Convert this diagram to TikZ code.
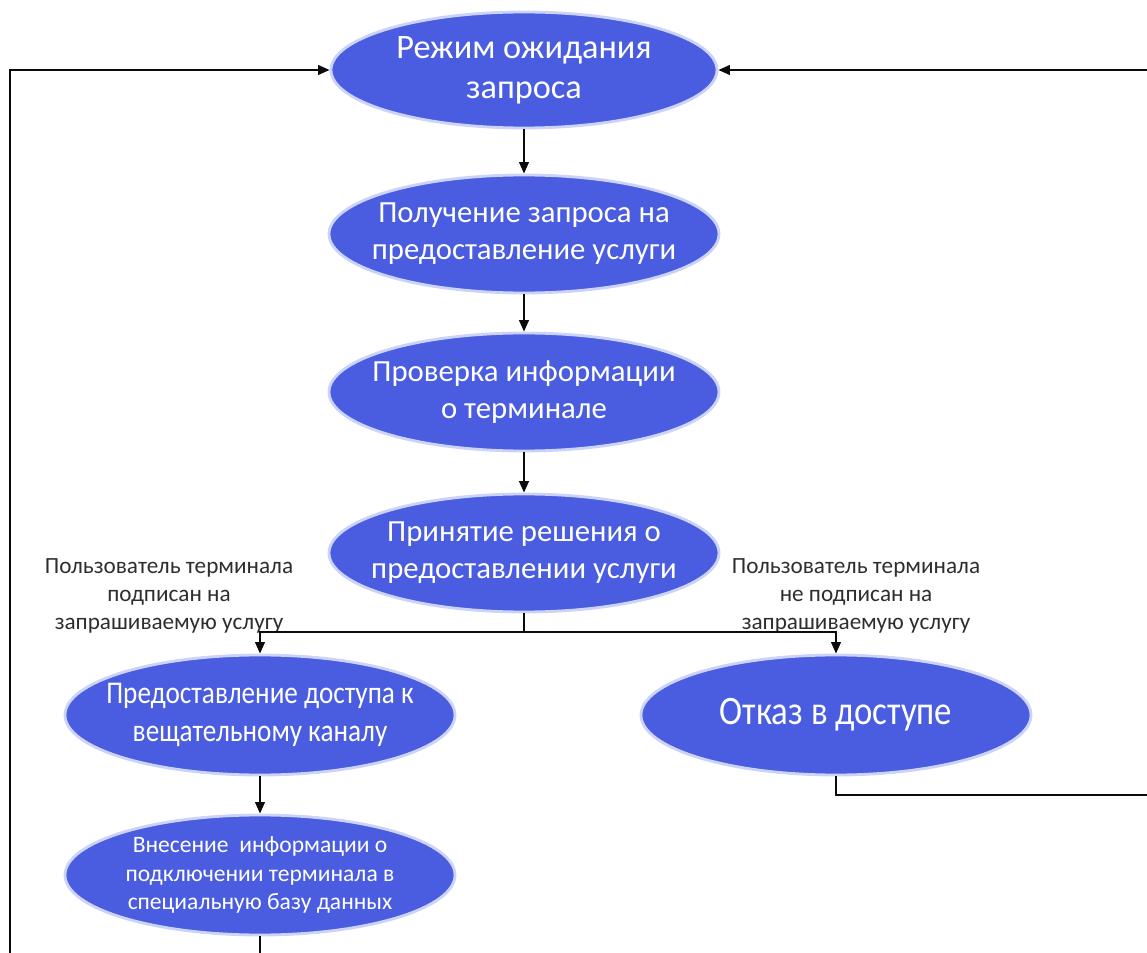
\documentclass[tikz,border=0pt]{standalone}
\usepackage{fontspec}
\setmainfont{Carlito}
\newfontfamily\condfont{Carlito}[FakeStretch=0.86]
\usetikzlibrary{shapes.geometric,arrows.meta}
\definecolor{cnode}{HTML}{4A5DE0}
\definecolor{cglow}{HTML}{CBD3F6}
\definecolor{cink}{HTML}{0B0B0B}
\definecolor{cink2}{HTML}{2E2E2E}

\begin{document}
\begin{tikzpicture}[
  stage/.style={ellipse, fill=cnode, draw=cglow, line width=1.6pt, text=white,
    align=center, inner xsep=-20pt, inner ysep=-6pt,
    minimum width=7.8cm, minimum height=2.36cm},
  link/.style={cink, line width=1.1pt},
  arr/.style={link, -{Triangle[length=6.5pt, width=5.5pt]}},
  note/.style={align=center, text=cink2, font=\fontsize{13.2}{16}\selectfont}]
\useasboundingbox (0,0) rectangle (22.94,-19.06);
%% ------------------------------------------------------------------ column
\node[stage, minimum width=7.72cm, minimum height=2.32cm,
  font=\fontsize{19.5}{23}\selectfont] (wait) at (10.48,-1.40)
  {Режим ожидания\\запроса};
\node[stage, font=\fontsize{17.5}{21}\selectfont] (recv) at (10.48,-4.68)
  {Получение запроса на\\предоставление услуги};
\node[stage, font=\fontsize{17.5}{21}\selectfont] (check) at (10.48,-7.84)
  {Проверка информации\\о терминале};
\node[stage, font=\fontsize{17.5}{21}\selectfont] (decide) at (10.48,-11.06)
  {Принятие решения о\\предоставлении услуги};
%% ------------------------------------------------------------------ branches
\node[stage, minimum height=2.4cm, font=\condfont\fontsize{18}{22}\selectfont]
  (grant) at (5.20,-14.30) {Предоставление доступа к\\вещательному каналу};
\node[stage, minimum height=2.4cm, font=\condfont\fontsize{23}{26}\selectfont]
  (deny) at (16.72,-14.30) {Отказ в доступе};
\node[stage, minimum height=2.4cm, font=\fontsize{13.4}{16}\selectfont]
  (store) at (5.20,-17.50)
  {Внесение~ информации о\\подключении терминала в\\специальную базу данных};
% the conditions written over the fork
\node[note] (yes) at (3.38,-11.92)
  {Пользователь терминала\\подписан на\\запрашиваемую услугу};
\node[note] (no) at (17.12,-11.92)
  {Пользователь терминала\\не подписан на\\запрашиваемую услугу};
%% ------------------------------------------------------------------ connectors
\coordinate (fork) at (10.48,-12.64);
\coordinate (lb) at (0.20,-19.06);
\coordinate (re) at (22.94,-1.40);
\coordinate (rb) at (22.94,-15.90);
\coordinate (sb) at (5.20,-19.06);
\foreach \a/\b in {wait/recv,recv/check,check/decide,grant/store}
  \draw[arr] (\a) -- (\b);
\draw[link] (decide.south) -- (fork);
\draw[arr] (fork) -| (grant.north);
\draw[arr] (fork) -| (deny.north);
% the way back to waiting
\draw[link] (store.south) -- (sb);
\draw[arr] (lb) |- (wait.west);
\draw[link] (deny.south) |- (rb);
\draw[arr] (re) -- (wait.east);
\end{tikzpicture}
\end{document}
